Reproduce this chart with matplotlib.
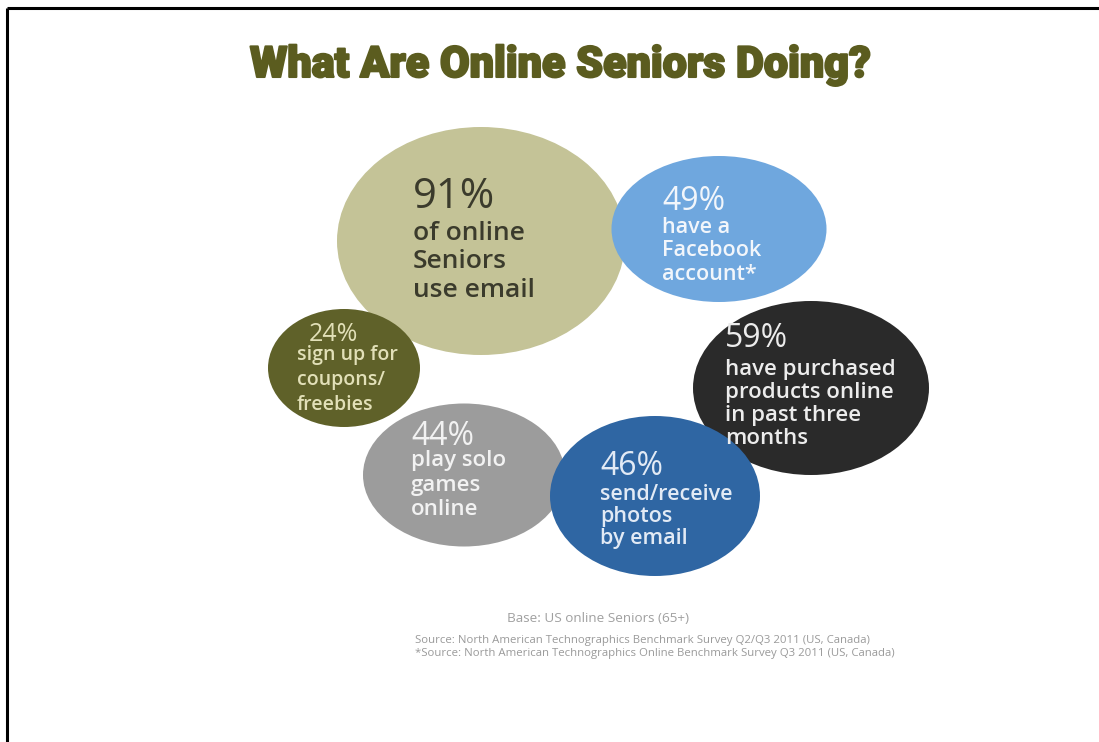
import matplotlib
matplotlib.use("Agg")
import matplotlib.pyplot as plt
from matplotlib.patches import Ellipse
import matplotlib.patheffects as pe

# chart content
percents = ["91%", "24%", "44%", "49%", "59%", "46%"]
captions = [
    "of online\nSeniors\nuse email",
    "sign up for\ncoupons/\nfreebies",
    "play solo\ngames\nonline",
    "have a\nFacebook\naccount*",
    "have purchased\nproducts online\nin past three\nmonths",
    "send/receive\nphotos\nby email",
]
title = "What Are Online Seniors Doing?"
base_note = "Base: US online Seniors (65+)"
sources = [
    "Source: North American Technographics Benchmark Survey Q2/Q3 2011 (US, Canada)",
    "*Source: North American Technographics Online Benchmark Survey Q3 2011 (US, Canada)",
]

# layout (pixel space, y down) and styles
centers = [(481, 241), (344, 368), (464, 475), (719, 229), (811, 388), (655, 496)]
sizes = [(288, 228), (152, 118), (202, 143), (215, 146), (236, 174), (210, 160)]
fills = ["#c4c397", "#5f6129", "#9c9c9c", "#6fa7de", "#2a2a2a", "#2f66a3"]
text_colors = ["#3b3b2c", "#e2e0b8", "#f2f2f2", "#f2f6fb", "#ececec", "#e2eaf5"]
pct_xy = [(413, 208), (309, 341), (411, 445), (662, 210), (725, 347), (600, 475)]
cap_x = [413, 297, 411, 662, 725, 600]
cap_y0 = [240, 360, 466, 233, 375, 500]
cap_gap = [28.5, 25, 24.5, 23.5, 23, 22]
pct_sizes = [30, 18, 23, 23, 23, 23]
cap_sizes = [19, 14, 16, 15.5, 16, 15.5]

W, H = 1099, 742
fig = plt.figure(figsize=(W / 100, H / 100), dpi=100)
ax = fig.add_axes([0, 0, 1, 1])
ax.set_xlim(0, W)
ax.set_ylim(H, 0)
ax.axis("off")

body_font = ["Open Sans", "DejaVu Sans"]

for i in range(len(percents)):
    ax.add_patch(Ellipse(centers[i], sizes[i][0], sizes[i][1],
                         facecolor=fills[i], edgecolor="none", zorder=i + 1))
    ax.text(pct_xy[i][0], pct_xy[i][1], percents[i], fontsize=pct_sizes[i],
            color=text_colors[i], family=body_font, ha="left", va="baseline", zorder=20)
    for j, line in enumerate(captions[i].split("\n")):
        ax.text(cap_x[i], cap_y0[i] + cap_gap[i] * j, line, fontsize=cap_sizes[i],
                color=text_colors[i], family=body_font, fontweight="semibold",
                ha="left", va="baseline", zorder=20)

ax.text(560, 77, title, fontsize=31, color="#5b5c1f", fontweight="black",
        family=["Roboto", "DejaVu Sans"], ha="center", va="baseline",
        path_effects=[pe.withStroke(linewidth=1.5, foreground="#5b5c1f")])

ax.text(507, 622, base_note, fontsize=9.7, color="#a0a0a0", family=body_font,
        ha="left", va="baseline")
for k, s in enumerate(sources):
    ax.text(415, 643 + 13 * k, s, fontsize=8.2, color="#9a9a9a", family=body_font,
            ha="left", va="baseline")

# frame on top and left only
ax.plot([7, 7], [H, 7.5], color="black", lw=2.2, solid_capstyle="butt")
ax.plot([7, W], [7.5, 7.5], color="black", lw=2.2, solid_capstyle="butt")

fig.savefig("out.png", dpi=100, facecolor="white")
